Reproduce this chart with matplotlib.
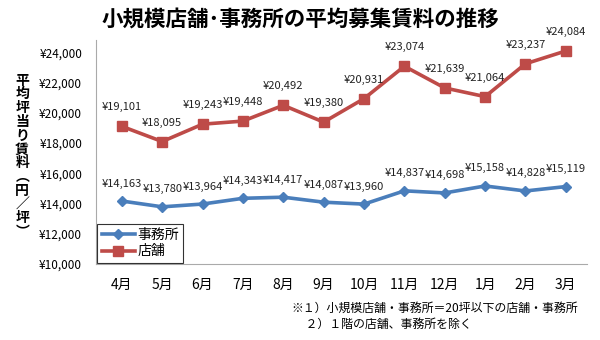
import matplotlib
matplotlib.use('Agg')
import matplotlib.pyplot as plt

plt.rcParams['font.family'] = ['Noto Sans CJK JP', 'DejaVu Sans']

# data
months = ['4月', '5月', '6月', '7月', '8月', '9月', '10月', '11月', '12月', '1月', '2月', '3月']
office = [14163, 13780, 13964, 14343, 14417, 14087, 13960, 14837, 14698, 15158, 14828, 15119]
shop = [19101, 18095, 19243, 19448, 20492, 19380, 20931, 23074, 21639, 21064, 23237, 24084]
yticks = list(range(10000, 24001, 2000))

fig = plt.figure(figsize=(6, 3.4), dpi=100)
ax = fig.add_axes([0.16, 0.2235, 0.818, 0.6585])

x = list(range(len(months)))
ax.plot(x, office, color='#4A7EBB', lw=2.6, marker='D', ms=5, label='事務所')
ax.plot(x, shop, color='#BE4B48', lw=2.6, marker='s', ms=6.5, label='店舗')

for xi, v in zip(x, office):
    ax.annotate(f'¥{v:,}', (xi, v), xytext=(0, 9), textcoords='offset points',
                ha='center', va='bottom', fontsize=8, color='#222222')
for xi, v in zip(x, shop):
    ax.annotate(f'¥{v:,}', (xi, v), xytext=(0, 10), textcoords='offset points',
                ha='center', va='bottom', fontsize=8, color='#222222')

ax.set_xlim(-0.64, 11.52)
ax.set_ylim(10000, 24800)
ax.set_xticks(x)
ax.set_xticklabels(months, fontsize=10)
ax.set_yticks(yticks)
ax.set_yticklabels([f'¥{t:,}' for t in yticks], fontsize=8.5)
ax.tick_params(length=0, pad=10)
ax.tick_params(axis='x', pad=10)
for s in ['top', 'right']:
    ax.spines[s].set_visible(False)
for s in ['left', 'bottom']:
    ax.spines[s].set_color('#AAAAAA')

leg = ax.legend(loc='lower left', bbox_to_anchor=(0.0, 0.0), fontsize=10,
                frameon=True, fancybox=False, borderpad=0.3, labelspacing=0.2,
                handlelength=2.4, handletextpad=0.2, borderaxespad=0.1)
leg.get_frame().set_edgecolor('black')
leg.get_frame().set_linewidth(0.8)

fig.text(0.5, 0.945, '小規模店舗･事務所の平均募集賃料の推移', ha='center', va='center',
         fontsize=15.5, fontweight='bold')

ylabel = '平均坪当り賃料︵円／坪︶'
fig.text(0.037, 0.54, '\n'.join(ylabel), ha='center', va='center', fontsize=10,
         fontweight='bold', linespacing=0.98)

fig.text(0.485, 0.093, '※１）小規模店舗・事務所＝20坪以下の店舗・事務所', ha='left', va='center',
         fontsize=8.6)
fig.text(0.485, 0.046, '　 ２）１階の店舗、事務所を除く', ha='left', va='center', fontsize=8.6)

fig.savefig('out.png', dpi=100)
